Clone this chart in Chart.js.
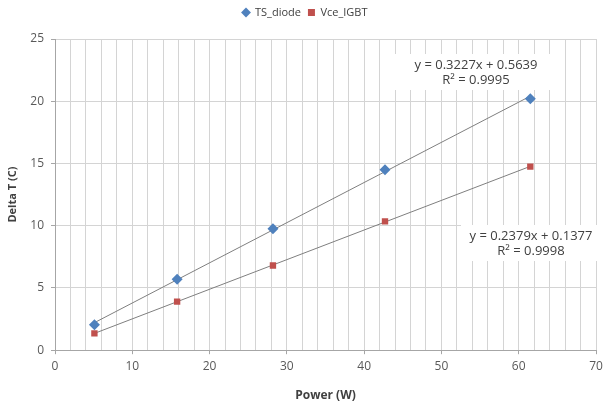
<!DOCTYPE html>
<html><head><meta charset="utf-8">
<script src="https://cdn.jsdelivr.net/npm/chart.js@4"></script>
<style>html,body{margin:0;padding:0;background:#fff}#w{width:604px;height:404px}</style>
</head><body><div id="w"><canvas id="c" width="604" height="404"></canvas></div>
<script>
const powerX = [5.1, 15.8, 28.2, 42.7, 61.5];
const tsDiode = [2.05, 5.7, 9.75, 14.5, 20.2];
const vceIGBT = [1.35, 3.9, 6.8, 10.35, 14.75];
const trendX = [5.1, 61.5];
const tsTrend = [2.21, 20.41];
const vceTrend = [1.35, 14.77];
const xTicks = [0, 10, 20, 30, 40, 50, 60, 70];
const yTicks = [0, 5, 10, 15, 20, 25];
const eqLabels = [
  {lines: ['y = 0.3227x + 0.5639', 'R² = 0.9995'], cx: 476, cy: 72, w: 164, h: 36},
  {lines: ['y = 0.2379x + 0.1377', 'R² = 0.9998'], cx: 531, cy: 243, w: 140, h: 36}
];
const pts = (xs, ys) => xs.map((x, i) => ({x, y: ys[i]}));
const FONT = '"Open Sans", "Noto Sans", sans-serif';

const eqPlugin = {
  id: 'eq',
  beforeLayout(chart) {
    const lg = chart.legend;
    if (lg && !lg._patched) {
      const fit = lg.fit;
      lg.fit = function () { fit.call(this); this.height = 39; };
      lg._patched = true;
    }
  },
  afterDatasetsDraw(chart) {
    const ctx = chart.ctx;
    ctx.save();
    eqLabels.forEach(l => {
      ctx.fillStyle = '#fff';
      ctx.fillRect(l.cx - l.w / 2, l.cy - l.h / 2, l.w, l.h);
      ctx.fillStyle = '#404040';
      ctx.font = '13px ' + FONT;
      ctx.textAlign = 'center';
      ctx.textBaseline = 'middle';
      ctx.fillText(l.lines[0], l.cx, l.cy - 7);
      ctx.fillText(l.lines[1], l.cx, l.cy + 8);
    });
    ctx.restore();
  }
};

new Chart(document.getElementById('c'), {
  type: 'scatter',
  data: {
    datasets: [
      {label: 'TS_diode', data: pts(powerX, tsDiode), pointStyle: 'rectRot', pointRadius: 5.5, pointHoverRadius: 5.5,
       backgroundColor: '#4F81BD', borderColor: '#4F81BD', borderWidth: 0, showLine: false},
      {label: 'Vce_IGBT', data: pts(powerX, vceIGBT), pointStyle: 'rect', pointRadius: 4.5, pointHoverRadius: 4.5,
       backgroundColor: '#C0504D', borderColor: '#C0504D', borderWidth: 0, showLine: false},
      {label: 'trend1', data: pts(trendX, tsTrend), showLine: true, pointRadius: 0, borderColor: '#7f7f7f', borderWidth: 1},
      {label: 'trend2', data: pts(trendX, vceTrend), showLine: true, pointRadius: 0, borderColor: '#7f7f7f', borderWidth: 1}
    ]
  },
  options: {
    responsive: false,
    animation: false,
    layout: {padding: {left: 6, right: 0, top: 0, bottom: 1}},
    plugins: {
      legend: {
        position: 'top',
        labels: {
          usePointStyle: true, boxWidth: 7, boxHeight: 7, padding: 7,
          font: {family: FONT, size: 11}, color: '#404040',
          filter: item => item.datasetIndex < 2
        }
      },
      tooltip: {enabled: false}
    },
    scales: {
      x: {
        type: 'linear', min: 0, max: 70,
        afterBuildTicks: s => { const t = []; for (let v = 0; v <= 70; v += 2) t.push({value: v}); s.ticks = t; },
        afterFit: s => { s.paddingRight = 8; },
        ticks: {autoSkip: false, maxRotation: 0, font: {family: FONT, size: 12}, color: '#595959', padding: 5,
          callback: v => xTicks.includes(v) ? String(v) : ''},
        grid: {color: '#d4d4d4', drawTicks: true, tickLength: 4,
          tickColor: c => (c.tick && c.tick.value % 10 === 0) ? '#a6a6a6' : 'rgba(0,0,0,0)'},
        border: {color: '#a6a6a6'},
        title: {display: true, text: 'Power (W)', font: {family: FONT, size: 12, weight: 'bold'}, color: '#404040', padding: {top: 10, bottom: 0}}
      },
      y: {
        min: 0, max: 25,
        afterBuildTicks: s => { s.ticks = yTicks.map(v => ({value: v})); },
        afterFit: s => { s.width = 49; },
        ticks: {font: {family: FONT, size: 12}, color: '#595959', padding: 7},
        grid: {color: '#d4d4d4', drawTicks: true, tickLength: 4, tickColor: '#a6a6a6'},
        border: {color: '#a6a6a6'},
        title: {display: true, text: 'Delta T (C)', font: {family: FONT, size: 11, weight: 'bold'}, color: '#404040', padding: {top: 0, bottom: 0}}
      }
    }
  },
  plugins: [eqPlugin]
});
</script></body></html>
